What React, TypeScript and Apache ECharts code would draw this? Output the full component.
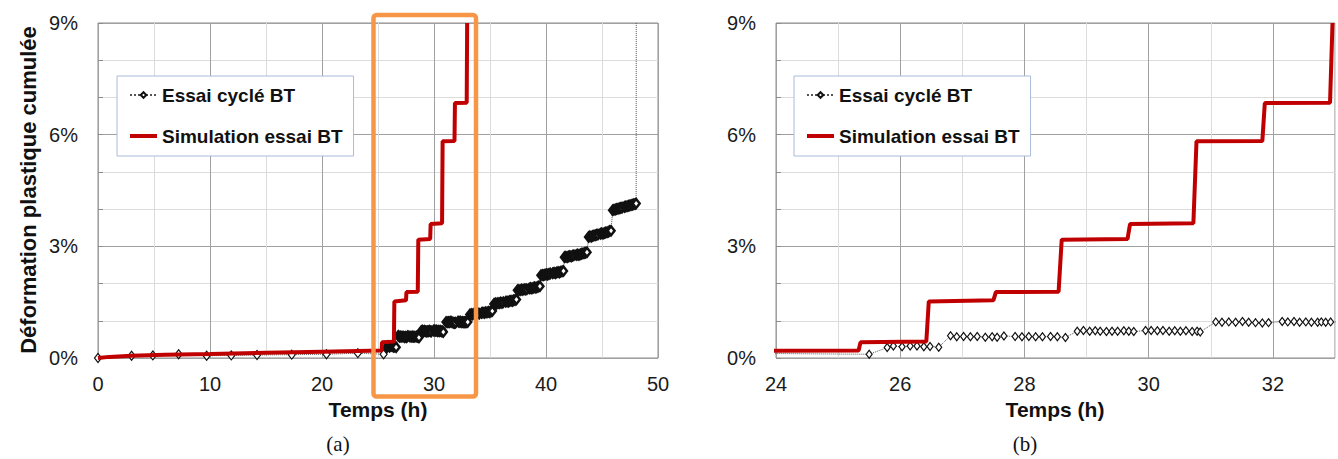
import React, { useEffect, useRef } from 'react';
import * as echarts from 'echarts';

// ---------- data ----------
const seriesNames = ['Essai cyclé BT', 'Simulation essai BT'];

// Essai cyclé BT : [temps (h), déformation (%)]
const essaiEarly = [
  [0, 0], [3.0, 0.06], [4.9, 0.07], [7.2, 0.1], [9.7, 0.06], [11.9, 0.07],
  [14.2, 0.08], [17.3, 0.09], [20.4, 0.1], [23.2, 0.13], [25.5, 0.1],
];
const essaiCycleA = [
  [25.79, 0.28], [25.89, 0.32], [26.03, 0.3], [26.16, 0.32], [26.27, 0.32],
  [26.38, 0.3], [26.48, 0.31], [26.62, 0.29],
];
const essaiCycleB = [
  [26.81, 0.6], [26.91, 0.57], [27.02, 0.58], [27.13, 0.57], [27.24, 0.58],
  [27.37, 0.56], [27.48, 0.57], [27.56, 0.56], [27.67, 0.59], [27.85, 0.58],
  [27.96, 0.57], [28.07, 0.58], [28.18, 0.57], [28.29, 0.57], [28.42, 0.58],
  [28.53, 0.57], [28.66, 0.55],
];
const essaiCycleC = [
  [28.85, 0.72], [28.95, 0.74], [29.05, 0.72], [29.14, 0.73], [29.22, 0.72],
  [29.32, 0.71], [29.41, 0.72], [29.5, 0.72], [29.6, 0.73], [29.68, 0.72],
  [29.76, 0.71], [29.95, 0.74], [30.04, 0.74], [30.14, 0.73], [30.23, 0.74],
  [30.33, 0.72], [30.42, 0.73], [30.51, 0.72], [30.6, 0.73], [30.7, 0.71],
  [30.78, 0.72], [30.83, 0.7],
];
const essaiCycleD = [
  [31.08, 0.97], [31.18, 0.96], [31.29, 0.97], [31.4, 0.96], [31.51, 0.98],
  [31.61, 0.96], [31.72, 0.95], [31.83, 0.94], [31.93, 0.95], [32.15, 0.98],
  [32.24, 0.97], [32.34, 0.98], [32.43, 0.96], [32.53, 0.97], [32.62, 0.96],
  [32.72, 0.96], [32.78, 0.97], [32.85, 0.96], [32.93, 0.97], [33.01, 0.97],
];
const essaiCycleE = [
  [33.2, 1.17], [33.32, 1.18], [33.44, 1.17], [33.56, 1.19], [33.68, 1.18],
  [33.8, 1.19], [33.92, 1.2], [34.04, 1.19], [34.25, 1.21], [34.37, 1.22],
  [34.49, 1.21], [34.61, 1.23], [34.73, 1.22], [34.85, 1.24], [34.97, 1.23],
  [35.09, 1.25], [35.21, 1.26],
];
const essaiCycleF = [
  [35.35, 1.45], [35.47, 1.47], [35.59, 1.46], [35.71, 1.48], [35.83, 1.47],
  [35.95, 1.49], [36.07, 1.48], [36.19, 1.5], [36.4, 1.51], [36.52, 1.52],
  [36.64, 1.51], [36.76, 1.53], [36.88, 1.54], [37.0, 1.53], [37.12, 1.55],
  [37.24, 1.56], [37.36, 1.57],
];
const essaiCycleG = [
  [37.45, 1.82], [37.57, 1.83], [37.69, 1.82], [37.81, 1.84], [37.93, 1.83],
  [38.05, 1.85], [38.17, 1.84], [38.29, 1.85], [38.5, 1.87], [38.62, 1.88],
  [38.74, 1.87], [38.86, 1.89], [38.98, 1.9], [39.1, 1.89], [39.22, 1.91],
  [39.34, 1.92], [39.46, 1.93],
];
const essaiCycleH = [
  [39.55, 2.22], [39.67, 2.23], [39.79, 2.22], [39.91, 2.24], [40.03, 2.25],
  [40.15, 2.24], [40.27, 2.26], [40.39, 2.27], [40.6, 2.28], [40.72, 2.29],
  [40.84, 2.28], [40.96, 2.3], [41.08, 2.31], [41.2, 2.3], [41.32, 2.32],
  [41.44, 2.33], [41.56, 2.34],
];
const essaiCycleI = [
  [41.65, 2.71], [41.77, 2.72], [41.89, 2.71], [42.01, 2.73], [42.13, 2.74],
  [42.25, 2.73], [42.37, 2.75], [42.49, 2.76], [42.7, 2.77], [42.82, 2.78],
  [42.94, 2.77], [43.06, 2.79], [43.18, 2.8], [43.3, 2.81], [43.42, 2.82],
  [43.54, 2.83], [43.66, 2.84],
];
const essaiCycleJ = [
  [43.8, 3.25], [43.92, 3.27], [44.04, 3.26], [44.16, 3.28], [44.28, 3.29],
  [44.4, 3.3], [44.52, 3.31], [44.64, 3.32], [44.85, 3.34], [44.97, 3.35],
  [45.09, 3.34], [45.21, 3.36], [45.33, 3.37], [45.45, 3.38], [45.57, 3.39],
  [45.69, 3.41], [45.81, 3.42],
];
const essaiCycleK = [
  [45.95, 3.97], [46.07, 3.98], [46.19, 3.99], [46.31, 4.0], [46.43, 4.01],
  [46.55, 4.02], [46.67, 4.03], [46.79, 4.04], [47.0, 4.06], [47.12, 4.07],
  [47.24, 4.08], [47.36, 4.09], [47.48, 4.1], [47.6, 4.11], [47.72, 4.12],
  [47.84, 4.13], [47.96, 4.14], [48.05, 4.15],
];
const essaiRupture = [[48.06, 9.6]];

// Simulation essai BT : [temps (h), déformation (%)]
const simulation = [
  [0, 0], [1, 0.03], [3, 0.06], [6, 0.09], [10, 0.11], [15, 0.14], [20, 0.17],
  [25.33, 0.2], [25.36, 0.42], [26.42, 0.44], [26.46, 1.52], [27.5, 1.55],
  [27.54, 1.77], [28.55, 1.78], [28.6, 3.18], [29.66, 3.2], [29.7, 3.6],
  [30.72, 3.62], [30.77, 5.82], [31.83, 5.83], [31.87, 6.85], [32.92, 6.86],
  [32.96, 9.0],
];

const essaiData = [
  ...essaiEarly, ...essaiCycleA, ...essaiCycleB, ...essaiCycleC, ...essaiCycleD,
  ...essaiCycleE, ...essaiCycleF, ...essaiCycleG, ...essaiCycleH, ...essaiCycleI,
  ...essaiCycleJ, ...essaiCycleK, ...essaiRupture,
];

const FONT = '"Liberation Sans", Arial, Helvetica, sans-serif';
const MAJOR = '#a0a0a0';
const MINOR = '#dcdcdc';

function makeSeries(idx: number, symbolSize: number[], borderWidth: number) {
  // early sparse points keep a thin outline; dense cycles use the given outline
  const data = essaiData.map((p, i) =>
    i < essaiEarly.length ? { value: p, itemStyle: { borderWidth: 1.2 } } : { value: p },
  );
  return [
    {
      name: seriesNames[0],
      type: 'line',
      xAxisIndex: idx,
      yAxisIndex: idx,
      data,
      symbol: 'diamond',
      symbolSize,
      showAllSymbol: true,
      clip: true,
      itemStyle: { color: '#ffffff', borderColor: '#111111', borderWidth },
      lineStyle: { color: '#555555', width: 1, type: 'dotted' },
      z: 2,
    },
    {
      name: seriesNames[1],
      type: 'line',
      xAxisIndex: idx,
      yAxisIndex: idx,
      data: simulation,
      symbol: 'none',
      clip: true,
      itemStyle: { color: '#C00000' },
      lineStyle: { color: '#C00000', width: 4 },
      z: 3,
    },
  ];
}

function yAxis(idx: number) {
  return {
    type: 'value',
    gridIndex: idx,
    min: 0,
    max: 9,
    interval: 1,
    axisLine: { show: false },
    axisTick: { show: true, inside: true, length: 5, lineStyle: { color: '#8c8c8c' } },
    splitLine: { show: true, lineStyle: { color: [MAJOR, MINOR, MINOR], width: 1 } },
    axisLabel: {
      formatter: (v: number) => (v % 3 === 0 ? v + '%' : ''),
      fontSize: 20,
      color: '#1a1a1a',
      fontFamily: FONT,
      margin: 20,
    },
  };
}

function legend(left: number) {
  return {
    left,
    top: 76,
    orient: 'vertical',
    data: [
      { name: seriesNames[0] },
      { name: seriesNames[1], itemStyle: { opacity: 0 }, lineStyle: { width: 4, color: '#C00000' } },
    ],
    backgroundColor: '#ffffff',
    borderColor: '#aabcd8',
    borderWidth: 1,
    padding: [8, 11, 9, 11],
    itemGap: 19,
    itemWidth: 27,
    itemHeight: 7,
    selectedMode: false,
    textStyle: { fontSize: 19, fontWeight: 'bold', color: '#111', fontFamily: FONT, lineHeight: 22 },
  };
}

export default function App() {
  const ref = useRef<HTMLDivElement>(null);
  useEffect(() => {
    if (!ref.current) return;
    const chart = echarts.init(ref.current, undefined, { renderer: 'svg' });
    const gridCommon = { show: true, borderColor: '#8c8c8c', borderWidth: 1, backgroundColor: 'transparent' };
    chart.setOption({
      animation: false,
      backgroundColor: '#ffffff',
      grid: [
        { left: 98, top: 23, width: 560, height: 335, ...gridCommon },
        { left: 776, top: 23, width: 559, height: 335, ...gridCommon },
      ],
      xAxis: [
        {
          type: 'value', gridIndex: 0, min: 0, max: 50, interval: 5,
          axisLine: { show: false }, axisTick: { show: false },
          splitLine: { show: true, lineStyle: { color: [MAJOR, MINOR], width: 1 } },
          axisLabel: {
            formatter: (v: number) => (v % 10 === 0 ? String(v) : ''),
            fontSize: 20, color: '#1a1a1a', fontFamily: FONT, margin: 16,
          },
        },
        {
          type: 'value', gridIndex: 1, min: 24, max: 33, interval: 1,
          axisLine: { show: false }, axisTick: { show: false },
          splitLine: { show: true, lineStyle: { color: [MAJOR, MINOR], width: 1 } },
          axisLabel: {
            formatter: (v: number) => (v % 2 === 0 ? String(v) : ''),
            showMaxLabel: false,
            fontSize: 20, color: '#1a1a1a', fontFamily: FONT, margin: 16,
          },
        },
      ],
      yAxis: [yAxis(0), yAxis(1)],
      legend: [legend(117), legend(794)],
      series: [...makeSeries(0, [7, 9], 2.5), ...makeSeries(1, [6, 8], 1.2)],
      graphic: [
        {
          type: 'text', x: 28, y: 190, rotation: Math.PI / 2, z: 50,
          style: {
            text: 'Déformation plastique cumulée', fontSize: 22, fontWeight: 'bold',
            fontFamily: FONT, fill: '#111', align: 'center', verticalAlign: 'middle',
          },
        },
        {
          type: 'text', x: 378, y: 409, z: 50,
          style: { text: 'Temps (h)', fontSize: 21, fontWeight: 'bold', fontFamily: FONT, fill: '#111', align: 'center', verticalAlign: 'middle' },
        },
        {
          type: 'text', x: 1055, y: 409, z: 50,
          style: { text: 'Temps (h)', fontSize: 21, fontWeight: 'bold', fontFamily: FONT, fill: '#111', align: 'center', verticalAlign: 'middle' },
        },
        {
          type: 'text', x: 338, y: 444, z: 50,
          style: { text: '(a)', fontSize: 21, fontFamily: '"Liberation Serif", "Times New Roman", serif', fill: '#111', align: 'center', verticalAlign: 'middle' },
        },
        {
          type: 'text', x: 1025, y: 444, z: 50,
          style: { text: '(b)', fontSize: 21, fontFamily: '"Liberation Serif", "Times New Roman", serif', fill: '#111', align: 'center', verticalAlign: 'middle' },
        },
        {
          type: 'rect', z: 100,
          shape: { x: 373.5, y: 15, width: 102.5, height: 381.5, r: 3 },
          style: { fill: 'none', stroke: '#F79646', lineWidth: 4.5 },
        },
      ],
    });
    return () => chart.dispose();
  }, []);
  return (
    <div
      ref={ref}
      style={{ position: 'absolute', left: 0, top: 0, width: 1338, height: 459 }}
    />
  );
}
